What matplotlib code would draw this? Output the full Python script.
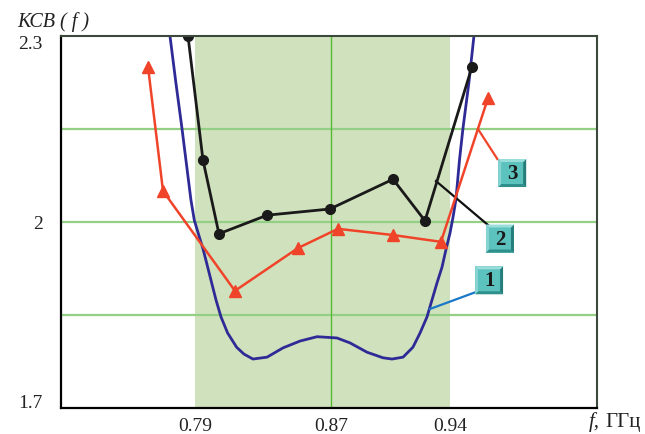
import matplotlib
matplotlib.use("Agg")
import matplotlib.pyplot as plt
import matplotlib.transforms as mtransforms
from matplotlib.patches import Polygon

plt.rcParams['font.family'] = ['Liberation Serif', 'DejaVu Serif']

# curve 1: calculated VSWR (smooth)
f_calc = [0.7753, 0.7788, 0.7824, 0.7850, 0.7876, 0.7896, 0.7919, 0.7949,
          0.7975, 0.7998, 0.8024, 0.8053, 0.8092, 0.8145, 0.8188, 0.8241,
          0.8324, 0.8418, 0.8518, 0.8618, 0.8735, 0.8812, 0.8912, 0.9006,
          0.9059, 0.9124, 0.9182, 0.9224, 0.9265, 0.9294, 0.9324, 0.9353,
          0.9376, 0.9400, 0.9418, 0.9435, 0.9456, 0.9476, 0.9511, 0.9541]
vswr_calc = [2.300, 2.224, 2.150, 2.093, 2.036, 2.003, 1.982, 1.955,
             1.927, 1.902, 1.874, 1.847, 1.821, 1.798, 1.787, 1.779,
             1.782, 1.797, 1.808, 1.815, 1.813, 1.805, 1.790, 1.781,
             1.779, 1.782, 1.798, 1.821, 1.847, 1.874, 1.902, 1.927,
             1.955, 1.982, 2.008, 2.036, 2.100, 2.150, 2.224, 2.300]

# curve 2: measured (circles)
f_meas2 = [0.7859, 0.7947, 0.8041, 0.8324, 0.8694, 0.9065, 0.9253, 0.9529]
vswr_meas2 = [2.300, 2.100, 1.981, 2.011, 2.021, 2.069, 2.002, 2.250]

# curve 3: measured (triangles)
f_meas3 = [0.7624, 0.7712, 0.8135, 0.8506, 0.8741, 0.9065, 0.9347, 0.9624]
vswr_meas3 = [2.250, 2.050, 1.889, 1.958, 1.989, 1.979, 1.968, 2.200]

x_ticks = [0.79, 0.87, 0.94]
x_tick_labels = ['0.79', '0.87', '0.94']
y_ticks = [1.7, 2.0, 2.3]
y_tick_labels = ['1.7', '2', '2.3']
band = (0.79, 0.94)

fig = plt.figure(figsize=(6.45, 4.34), dpi=100)
ax = fig.add_axes([0.0946, 0.0599, 0.831, 0.8571])
ax.set_xlim(0.7112, 1.0265)
ax.set_ylim(1.7, 2.3)

ax.axvspan(*band, color='#d0e2bd', lw=0, zorder=0)
for yv in [1.85, 2.0, 2.15]:
    ax.axhline(yv, color='#93cf85', lw=1.6, zorder=1)
ax.axvline(0.87, color='#55b934', lw=1.0, zorder=1)

ax.plot(f_calc, vswr_calc, color='#2e2a96', lw=2.0, zorder=3,
        solid_joinstyle='round')
ax.plot(f_meas2, vswr_meas2, color='#1a1a1a', lw=2.0, marker='o', ms=7,
        zorder=4)
ax.plot(f_meas3, vswr_meas3, color='#f0442a', lw=1.8, marker='^', ms=8,
        zorder=4)

# leader lines to the numbered boxes
ax.plot([0.95647, 0.96788], [2.150, 2.1016], color='#f0442a', lw=1.6, zorder=3)
ax.plot([0.93176, 0.96235], [2.0661, 1.9952], color='#111111', lw=1.6, zorder=3)
ax.plot([0.92824, 0.95529], [1.8597, 1.8871], color='#1a78c8', lw=1.6, zorder=3)


def label_box(cx, cy, txt):
    # bevelled square, sizes in inches around a data-space centre
    tr = fig.dpi_scale_trans + mtransforms.ScaledTranslation(cx, cy, ax.transData)
    h = 0.14
    b = 0.03
    outer = [(-h, -h), (h, -h), (h, h), (-h, h)]
    inner = [(-h + b, -h + b), (h - b, -h + b), (h - b, h - b), (-h + b, h - b)]
    ax.add_patch(Polygon(outer, closed=True, transform=tr, fc='#5cc2be',
                         ec='none', zorder=5, clip_on=False))
    ax.add_patch(Polygon([outer[0], outer[1], inner[1], inner[0]], transform=tr,
                         fc='#2f8f8b', ec='none', zorder=6, clip_on=False))
    ax.add_patch(Polygon([outer[1], outer[2], inner[2], inner[1]], transform=tr,
                         fc='#267e7a', ec='none', zorder=6, clip_on=False))
    ax.add_patch(Polygon([outer[2], outer[3], inner[3], inner[2]], transform=tr,
                         fc='#9adedb', ec='none', zorder=6, clip_on=False))
    ax.add_patch(Polygon([outer[3], outer[0], inner[0], inner[3]], transform=tr,
                         fc='#86d4d1', ec='none', zorder=6, clip_on=False))
    ax.text(0, -0.01, txt, transform=tr, ha='center', va='center',
            fontsize=15, fontweight='bold', color='#1a1a1a', zorder=7)


label_box(0.9766, 2.079, '3')
label_box(0.9694, 1.9734, '2')
label_box(0.9630, 1.906, '1')

for side in ['left', 'bottom']:
    ax.spines[side].set_color('black')
    ax.spines[side].set_linewidth(1.6)
for side in ['top', 'right']:
    ax.spines[side].set_color('#3c483c')
    ax.spines[side].set_linewidth(1.5)
for s in ax.spines.values():
    s.set_zorder(8)

ax.set_xticks(x_ticks)
ax.set_xticklabels(x_tick_labels)
ax.set_yticks(y_ticks)
ax.set_yticklabels(y_tick_labels)
ax.tick_params(length=0, labelsize=14, colors='#222222')
ax.tick_params(axis='x', pad=7)
ax.tick_params(axis='y', pad=13)
ylabels = ax.get_yticklabels()
ylabels[0].set_va('baseline')
ylabels[2].set_va('top')

fig.text(17 / 645, 1 - 22 / 434, 'КСВ ( f )', fontsize=14.5, style='italic',
         va='center', ha='left', color='#222222')
fig.text(589 / 645, 1 - 422 / 434, 'f,', fontsize=15, style='italic',
         va='center', ha='left', color='#222222')
fig.text(605 / 645, 1 - 422 / 434, 'ГГц', fontsize=15,
         va='center', ha='left', color='#222222')

fig.savefig('out.png', dpi=100)
